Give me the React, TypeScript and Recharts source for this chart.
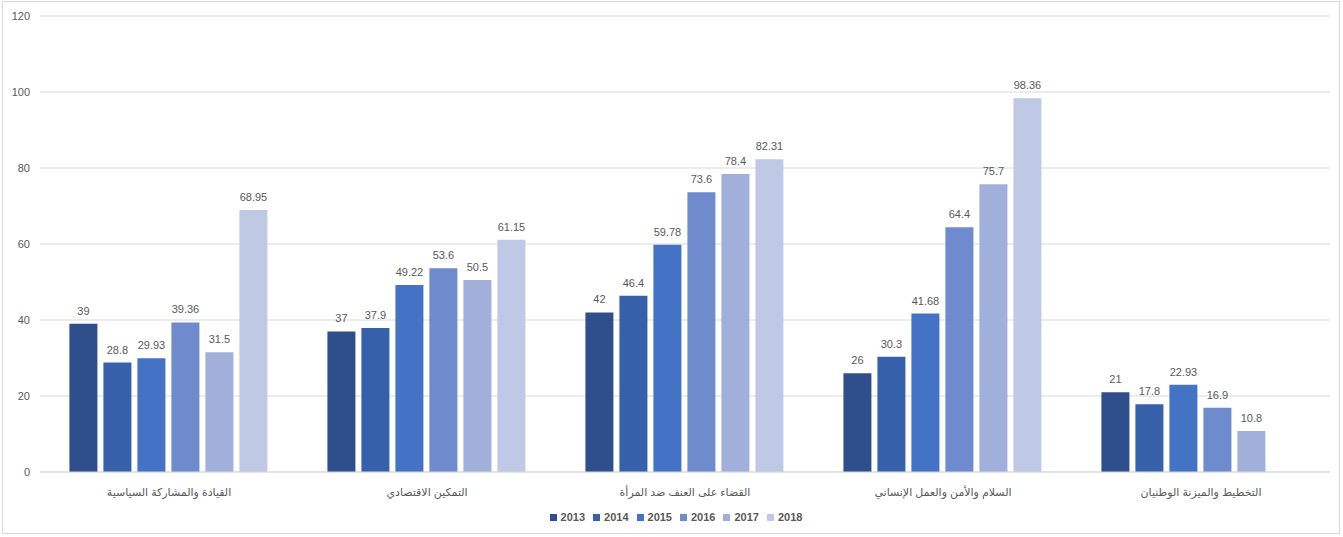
import * as React from 'react';
import { BarChart, Bar, XAxis, YAxis, CartesianGrid, Legend, LabelList } from 'recharts';

// categories (Arabic labels, left to right as in the source chart)
const categories = [
  'القيادة والمشاركة السياسية',
  'التمكين الاقتصادي',
  'القضاء على العنف ضد المرأة',
  'السلام والأمن والعمل الإنساني',
  'التخطيط والميزنة الوطنيان',
];

const years = ['2013', '2014', '2015', '2016', '2017', '2018'];

const values2013 = [39, 37, 42, 26, 21];
const values2014 = [28.8, 37.9, 46.4, 30.3, 17.8];
const values2015 = [29.93, 49.22, 59.78, 41.68, 22.93];
const values2016 = [39.36, 53.6, 73.6, 64.4, 16.9];
const values2017 = [31.5, 50.5, 78.4, 75.7, 10.8];
const values2018 = [68.95, 61.15, 82.31, 98.36, null];

const yTicks = [0, 20, 40, 60, 80, 100, 120];

const colors = ['#2E4F8C', '#3760AA', '#4472C4', '#6E8BCD', '#A1B0DA', '#BFC9E6'];

const series = [values2013, values2014, values2015, values2016, values2017, values2018];

const data = categories.map((name, i) => {
  const row: Record<string, string | number | null> = { name };
  years.forEach((y, j) => {
    row[y] = series[j][i];
  });
  return row;
});

const FONT = '"Liberation Sans", "DejaVu Sans", sans-serif';

const renderLegend = () => (
  <div
    style={{
      display: 'flex',
      justifyContent: 'center',
      gap: 8,
      paddingTop: 9,
      paddingLeft: 22,
      fontFamily: FONT,
      fontSize: 11,
      fontWeight: 'bold',
      color: '#595959',
    }}
  >
    {years.map((y, i) => (
      <span key={y} style={{ display: 'flex', alignItems: 'center' }}>
        <span style={{ width: 7, height: 7, background: colors[i], display: 'inline-block', marginRight: 4 }} />
        {y}
      </span>
    ))}
  </div>
);

export default function App() {
  return (
    <div
      style={{
        position: 'absolute',
        left: 0,
        top: 0,
        width: 1343,
        height: 537,
        background: '#fff',
      }}
    >
      <div
        style={{
          position: 'absolute',
          left: 2,
          top: 1,
          width: 1338,
          height: 533,
          border: '1px solid #D9D9D9',
          boxSizing: 'border-box',
        }}
      />
      <BarChart
        width={1343}
        height={537}
        data={data}
        margin={{ top: 16, right: 13, left: 0, bottom: 10 }}
        barCategoryGap="11.4%"
        barGap={6}
      >
        <CartesianGrid vertical={false} stroke="#D9D9D9" />
        <XAxis
          dataKey="name"
          axisLine={{ stroke: '#D9D9D9' }}
          tickLine={false}
          tickMargin={10}
          height={30}
          tick={{ fontFamily: FONT, fontSize: 11, fill: '#595959' }}
        />
        <YAxis
          domain={[0, 120]}
          ticks={yTicks}
          width={40}
          axisLine={false}
          tickLine={false}
          tickSize={0}
          tickMargin={10}
          tick={{ fontFamily: FONT, fontSize: 11, fill: '#595959' }}
        />
        <Legend verticalAlign="bottom" height={25} content={renderLegend} />
        {years.map((y, i) => (
          <Bar key={y} dataKey={y} fill={colors[i]} isAnimationActive={false}>
            <LabelList
              dataKey={y}
              position="top"
              offset={9}
              formatter={(v: any) => (v === null || v === undefined ? '' : v)}
              style={{ fontFamily: FONT, fontSize: 11, fill: '#595959' }}
            />
          </Bar>
        ))}
      </BarChart>
    </div>
  );
}
